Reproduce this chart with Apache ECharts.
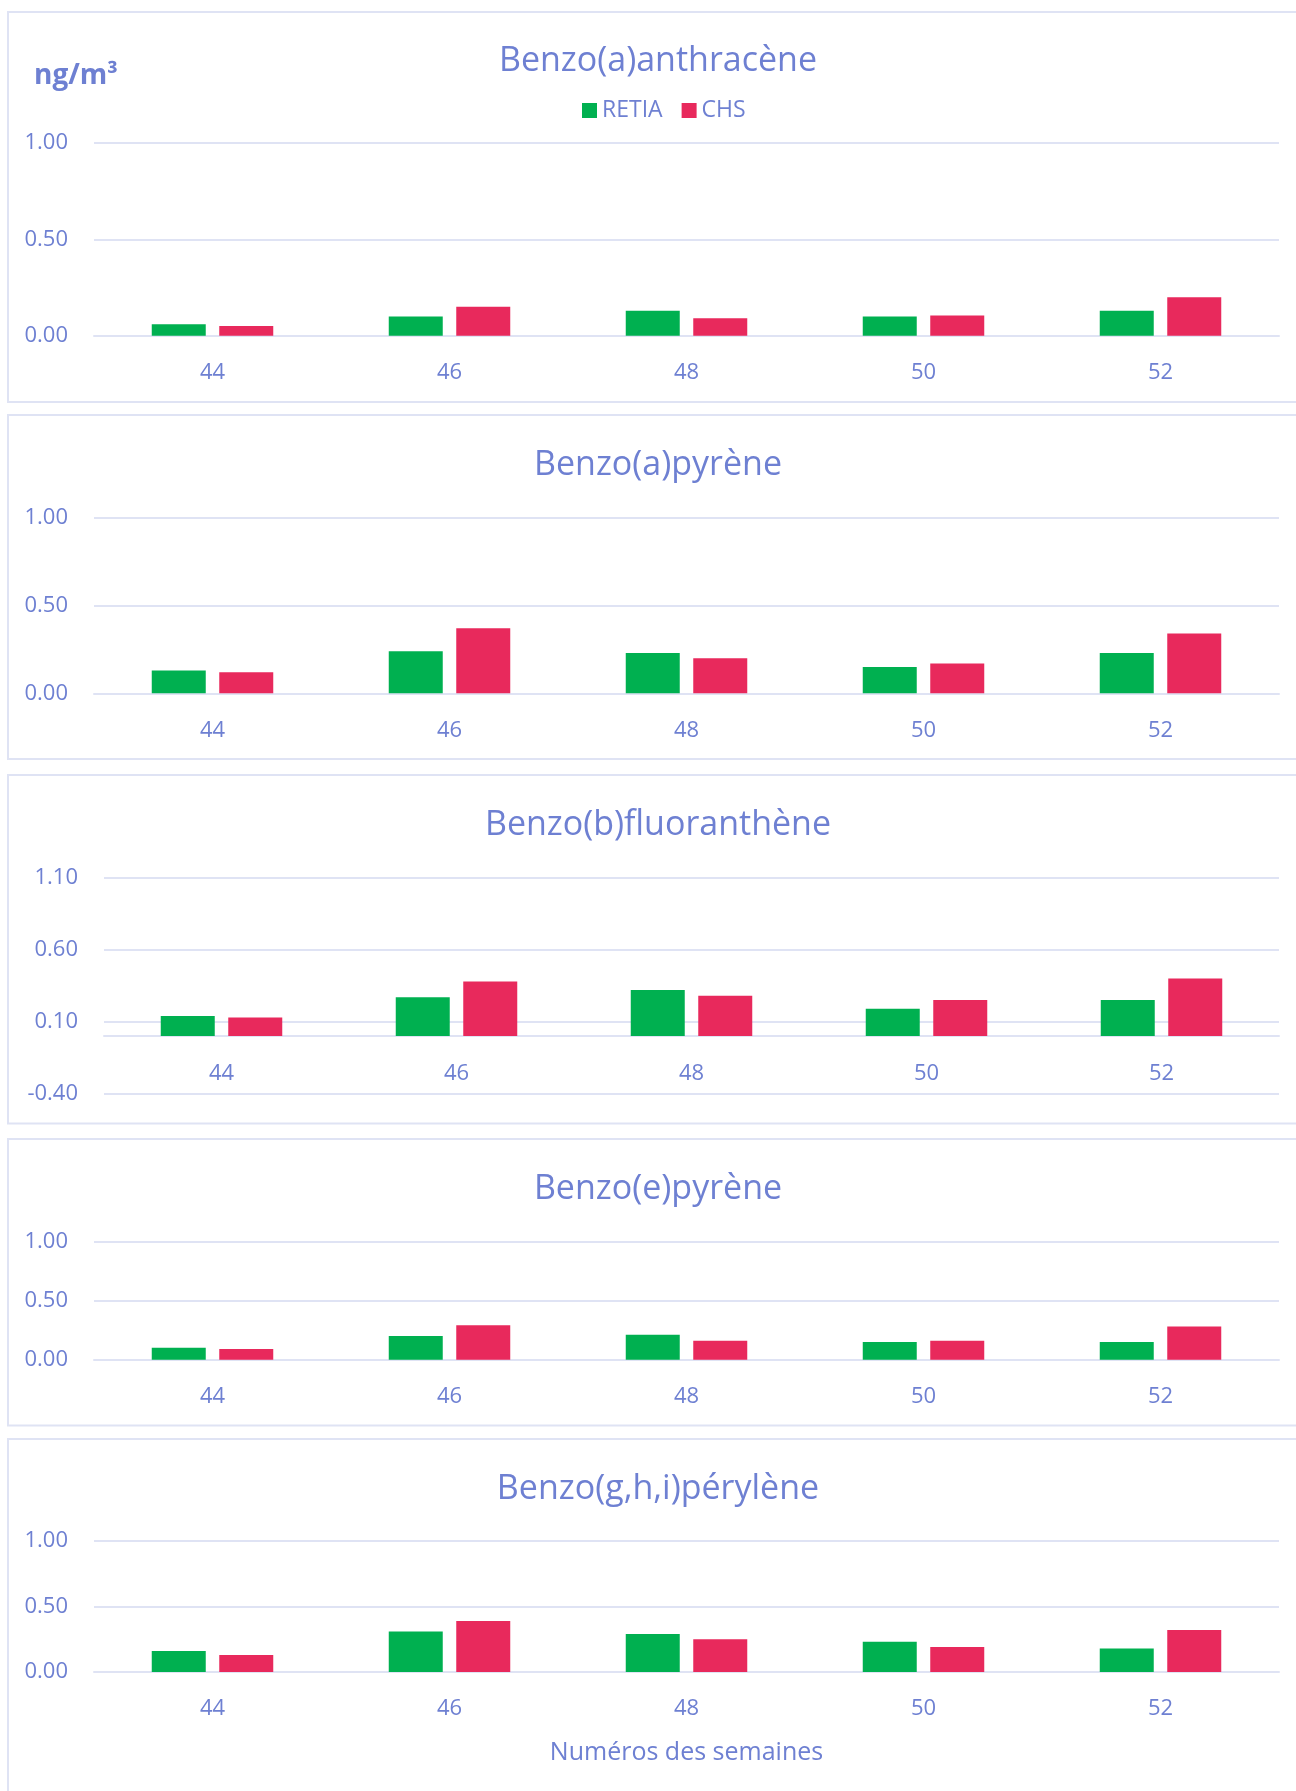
<!DOCTYPE html>
<html>
<head>
<meta charset="utf-8">
<title>HAP - semaines 44 à 52</title>
<script src="https://cdn.jsdelivr.net/npm/echarts@6/dist/echarts.min.js"></script>
<style>
  html, body { margin: 0; padding: 0; background: #fff; }
  #chart { width: 1296px; height: 1791px; }
</style>
</head>
<body>
<div id="chart"></div>
<script>
// semaines (axe x)
const weeks = ['44', '46', '48', '50', '52']
const seriesNames = ['RETIA', 'CHS']
const titles = ['Benzo(a)anthracène', 'Benzo(a)pyrène', 'Benzo(b)fluoranthène', 'Benzo(e)pyrène', 'Benzo(g,h,i)pérylène']

// valeurs en ng/m3
const retiaBaA = [0.06, 0.10, 0.13, 0.10, 0.13]
const chsBaA = [0.05, 0.15, 0.09, 0.105, 0.20]
const retiaBaP = [0.13, 0.24, 0.23, 0.15, 0.23]
const chsBaP = [0.12, 0.37, 0.20, 0.17, 0.34]
const retiaBbF = [0.14, 0.27, 0.32, 0.19, 0.25]
const chsBbF = [0.13, 0.38, 0.28, 0.25, 0.40]
const retiaBeP = [0.10, 0.20, 0.21, 0.15, 0.15]
const chsBeP = [0.09, 0.29, 0.16, 0.16, 0.28]
const retiaBghiP = [0.16, 0.31, 0.29, 0.23, 0.18]
const chsBghiP = [0.13, 0.39, 0.25, 0.19, 0.32]

// bornes de l'axe y de chaque graphique
const yMin = [0, 0, -0.4, 0, 0]
const yMax = [1, 1, 1.1, 1, 1]
const yStep = [0.5, 0.5, 0.5, 0.5, 0.5]

const retiaData = [retiaBaA, retiaBaP, retiaBbF, retiaBeP, retiaBghiP]
const chsData = [chsBaA, chsBaP, chsBbF, chsBeP, chsBghiP]

// mise en page (px) : cadre, zone de tracé, titre, marge des semaines
const panels = [
  {box: [12, 402], grid: [143, 335.7], left: 94, titleY: 61.5, labelMargin: 26},
  {box: [415, 759], grid: [517.7, 693.3], left: 94, titleY: 465.5, labelMargin: 26},
  {box: [775, 1123.5], grid: [877.7, 1093.7], left: 104, titleY: 825.5, labelMargin: -31},
  {box: [1139, 1425.5], grid: [1241.3, 1359.7], left: 94, titleY: 1189.5, labelMargin: 26},
  {box: [1439, 1900], grid: [1541, 1672], left: 94, titleY: 1489.5, labelMargin: 26}
]

const FONT = '"Segoe UI", "Open Sans", sans-serif'
const TEXT = '#6e80d2'
const LINE = '#dfe3f4'
const GREEN = '#00b050'
const RED = '#e8295c'

const chart = echarts.init(document.getElementById('chart'))

const option = {
  animation: false,
  backgroundColor: '#fff',
  textStyle: {fontFamily: FONT},
  title: [],
  grid: [],
  xAxis: [],
  yAxis: [],
  series: [],
  legend: {
    data: seriesNames,
    left: 582,
    top: 99,
    padding: 0,
    itemWidth: 15,
    itemHeight: 15,
    itemGap: 19,
    icon: 'rect',
    textStyle: {color: TEXT, fontSize: 23, fontFamily: FONT}
  },
  graphic: []
}

// unité
option.title.push({
  text: 'ng/m³',
  left: 34,
  top: 62,
  padding: 0,
  textStyle: {color: TEXT, fontSize: 28, fontWeight: 'bold', fontFamily: FONT}
})

panels.forEach(function (p, i) {
  option.graphic.push({
    type: 'rect',
    silent: true,
    z: -1,
    shape: {x: 8, y: p.box[0], width: 1400, height: p.box[1] - p.box[0]},
    style: {fill: 'none', stroke: LINE, lineWidth: 2}
  })
  option.title.push({
    text: titles[i],
    left: 658,
    top: p.titleY - 22,
    textAlign: 'center',
    padding: 0,
    textStyle: {color: TEXT, fontSize: 34, fontWeight: 'normal', fontFamily: FONT, lineHeight: 44}
  })
  option.grid.push({
    left: p.left,
    right: 17,
    top: p.grid[0],
    height: p.grid[1] - p.grid[0]
  })
  option.xAxis.push({
    type: 'category',
    gridIndex: i,
    data: weeks,
    axisTick: {show: false},
    axisLine: {lineStyle: {color: LINE, width: 2}},
    axisLabel: {color: TEXT, fontSize: 22, margin: p.labelMargin, fontFamily: FONT},
    name: i === 4 ? 'Numéros des semaines' : '',
    nameLocation: 'middle',
    nameGap: 68,
    nameTextStyle: {color: TEXT, fontSize: 25, fontFamily: FONT}
  })
  option.yAxis.push({
    type: 'value',
    gridIndex: i,
    min: yMin[i],
    max: yMax[i],
    interval: yStep[i],
    axisLine: {show: false},
    axisTick: {show: false},
    splitLine: {lineStyle: {color: LINE, width: 2}},
    axisLabel: {
      color: TEXT,
      fontSize: 22,
      margin: 26,
      fontFamily: FONT,
      formatter: function (v) { return v.toFixed(2) }
    }
  })
  option.series.push({
    name: seriesNames[0],
    type: 'bar',
    xAxisIndex: i,
    yAxisIndex: i,
    data: retiaData[i],
    barWidth: 54,
    barGap: '25%',
    itemStyle: {color: GREEN}
  })
  option.series.push({
    name: seriesNames[1],
    type: 'bar',
    xAxisIndex: i,
    yAxisIndex: i,
    data: chsData[i],
    barWidth: 54,
    barGap: '25%',
    itemStyle: {color: RED}
  })
})

chart.setOption(option)
</script>
</body>
</html>
